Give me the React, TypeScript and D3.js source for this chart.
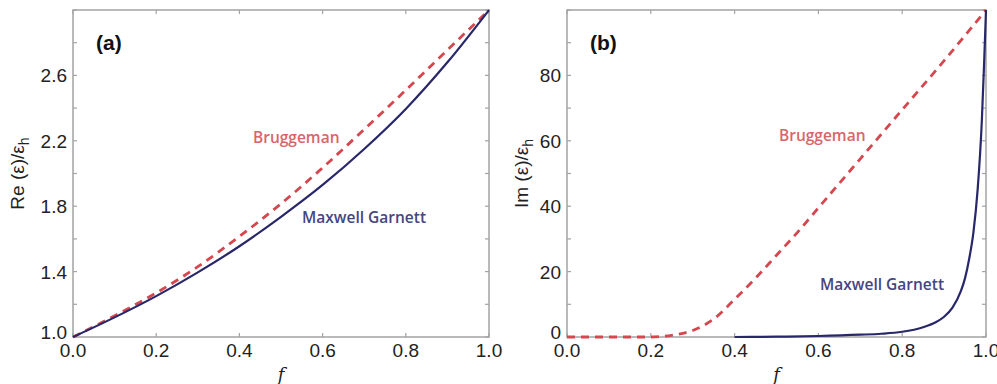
import React from "react";
import * as d3 from "d3";

// ---- data ----
const reF = [0, 0.1, 0.2, 0.3, 0.4, 0.5, 0.6, 0.7, 0.8, 0.9, 1.0];
const reMaxwellGarnett = [1.0, 1.12, 1.25, 1.395, 1.555, 1.735, 1.93, 2.15, 2.395, 2.68, 3.0];
const reBruggeman = [1.0, 1.13, 1.27, 1.43, 1.615, 1.815, 2.035, 2.27, 2.51, 2.755, 3.0];

const imBrugF = [0, 0.1, 0.2, 0.22, 0.25, 0.3, 0.35, 0.4, 0.45, 0.5, 0.55, 0.6, 0.7, 0.8, 0.9, 1.0];
const imBruggeman = [0, 0, 0, 0.1, 0.5, 2, 5.5, 11.5, 18, 25, 32, 39.5, 54.5, 69.5, 84.5, 100];

const imMgF = [0.4, 0.5, 0.6, 0.7, 0.75, 0.8, 0.85, 0.88, 0.9, 0.92, 0.94, 0.95, 0.96, 0.97, 0.98, 0.99, 0.995, 1.0];
const imMaxwellGarnett = [0, 0.1, 0.3, 0.7, 1.0, 1.6, 3.0, 4.5, 6.2, 9, 14, 18, 24, 32, 45, 66, 82, 100];

const xTicks = [0, 0.2, 0.4, 0.6, 0.8, 1.0];
const reYTicks = [1.0, 1.2, 1.4, 1.6, 1.8, 2.0, 2.2, 2.4, 2.6, 2.8, 3.0];
const reYLabels = [1.0, 1.4, 1.8, 2.2, 2.6];
const imYTicks = [0, 10, 20, 30, 40, 50, 60, 70, 80, 90, 100];
const imYLabels = [0, 20, 40, 60, 80];

const MG_COLOR = "#27276a";
const MG_TEXT = "#45457f";
const BR_COLOR = "#d4474f";
const BR_TEXT = "#d9656a";
const FRAME = "#a3a3a3";
const TICKFONT = "'Liberation Sans', Arial, sans-serif";
const LABELFONT = "'Open Sans', 'Noto Sans', sans-serif";

type Series = { f: number[]; v: number[]; dashed: boolean };

type PanelProps = {
  x0: number; x1: number; y0: number; y1: number;
  yDomain: [number, number];
  yTicks: number[]; yLabels: number[];
  yFmt: (v: number) => string;
  series: Series[];
  tag: string;
  yTitle: string;
  titleX: number;
  brug: [number, number];
  mg: [number, number];
};

function Panel(p: PanelProps) {
  const x = d3.scaleLinear().domain([0, 1]).range([p.x0, p.x1]);
  const y = d3.scaleLinear().domain(p.yDomain).range([p.y1, p.y0]);
  const tl = 4;
  const midY = (p.y0 + p.y1) / 2;
  return (
    <g>
      <defs>
        <clipPath id={"clip" + p.tag}>
          <rect x={p.x0 - 2} y={p.y0 - 2} width={p.x1 - p.x0 + 4} height={p.y1 - p.y0 + 4} />
        </clipPath>
      </defs>
      <rect x={p.x0} y={p.y0} width={p.x1 - p.x0} height={p.y1 - p.y0} fill="none" stroke={FRAME} strokeWidth={1.5} />
      {xTicks.map((t) => (
        <g key={"xt" + t}>
          <line x1={x(t)} x2={x(t)} y1={p.y1} y2={p.y1 - tl} stroke={FRAME} strokeWidth={1.2} />
          <line x1={x(t)} x2={x(t)} y1={p.y0} y2={p.y0 + tl} stroke={FRAME} strokeWidth={1.2} />
          <text x={x(t)} y={p.y1 + 20} textAnchor="middle" fontFamily={TICKFONT} fontSize={19} fill="#222">
            {d3.format(".1f")(t)}
          </text>
        </g>
      ))}
      {p.yTicks.map((t) => (
        <g key={"yt" + t}>
          <line x1={p.x0} x2={p.x0 + tl} y1={y(t)} y2={y(t)} stroke={FRAME} strokeWidth={1.2} />
          <line x1={p.x1} x2={p.x1 - tl} y1={y(t)} y2={y(t)} stroke={FRAME} strokeWidth={1.2} />
        </g>
      ))}
      {p.yLabels.map((t, i) => (
        <text key={"yl" + t} x={p.x0 - 6} y={y(t) + (i === 0 ? 2 : 7)} textAnchor="end" fontFamily={TICKFONT} fontSize={19} fill="#222">
          {p.yFmt(t)}
        </text>
      ))}
      <text x={(p.x0 + p.x1) / 2} y={381} textAnchor="middle" fontFamily="'DejaVu Serif', 'Liberation Serif', serif" fontStyle="italic" fontSize={18} fill="#222">
        f
      </text>
      <text transform={`translate(${p.titleX},${midY}) rotate(-90)`} textAnchor="middle" fontFamily={TICKFONT} fontSize={19} fill="#222">
        {p.yTitle}
        <tspan>(ε)/ε</tspan>
        <tspan dy={5} fontSize={14}>h</tspan>
      </text>
      <text x={p.x0 + 23} y={50} fontFamily={TICKFONT} fontWeight="bold" fontSize={21} fill="#111">
        ({p.tag})
      </text>
      <g clipPath={`url(#clip${p.tag})`}>
        {p.series.map((s, i) => {
          const pts = s.f.map((f, j) => [f, s.v[j]] as [number, number]);
          const line = d3
            .line<[number, number]>()
            .x((d) => x(d[0]))
            .y((d) => y(d[1]))
            .curve(d3.curveMonotoneX);
          return (
            <path
              key={i}
              d={line(pts) || ""}
              fill="none"
              stroke={s.dashed ? BR_COLOR : MG_COLOR}
              strokeWidth={s.dashed ? 2.8 : 2.2}
              strokeDasharray={s.dashed ? "8,6" : undefined}
            />
          );
        })}
      </g>
      <text x={p.brug[0]} y={p.brug[1]} fontFamily={LABELFONT} fontWeight={600} fontSize={15.5} fill={BR_TEXT}>
        Bruggeman
      </text>
      <text x={p.mg[0]} y={p.mg[1]} fontFamily={LABELFONT} fontWeight={600} fontSize={15.5} fill={MG_TEXT}>
        Maxwell Garnett
      </text>
    </g>
  );
}

export default function App() {
  return (
    <svg width={997} height={384} style={{ position: "absolute", left: 0, top: 0, background: "#fff" }}>
      <rect x={0} y={0} width={997} height={384} fill="#fff" />
      <Panel
        x0={73} x1={489} y0={10} y1={337}
        yDomain={[1, 3]}
        yTicks={reYTicks} yLabels={reYLabels}
        yFmt={d3.format(".1f")}
        series={[
          { f: reF, v: reBruggeman, dashed: true },
          { f: reF, v: reMaxwellGarnett, dashed: false },
        ]}
        tag="a"
        yTitle="Re "
        titleX={24}
        brug={[253, 143]}
        mg={[302, 223]}
      />
      <Panel
        x0={567} x1={986} y0={10} y1={337}
        yDomain={[0, 100]}
        yTicks={imYTicks} yLabels={imYLabels}
        yFmt={d3.format("d")}
        series={[
          { f: imBrugF, v: imBruggeman, dashed: true },
          { f: imMgF, v: imMaxwellGarnett, dashed: false },
        ]}
        tag="b"
        yTitle="Im "
        titleX={528}
        brug={[779, 141]}
        mg={[820, 290]}
      />
    </svg>
  );
}
